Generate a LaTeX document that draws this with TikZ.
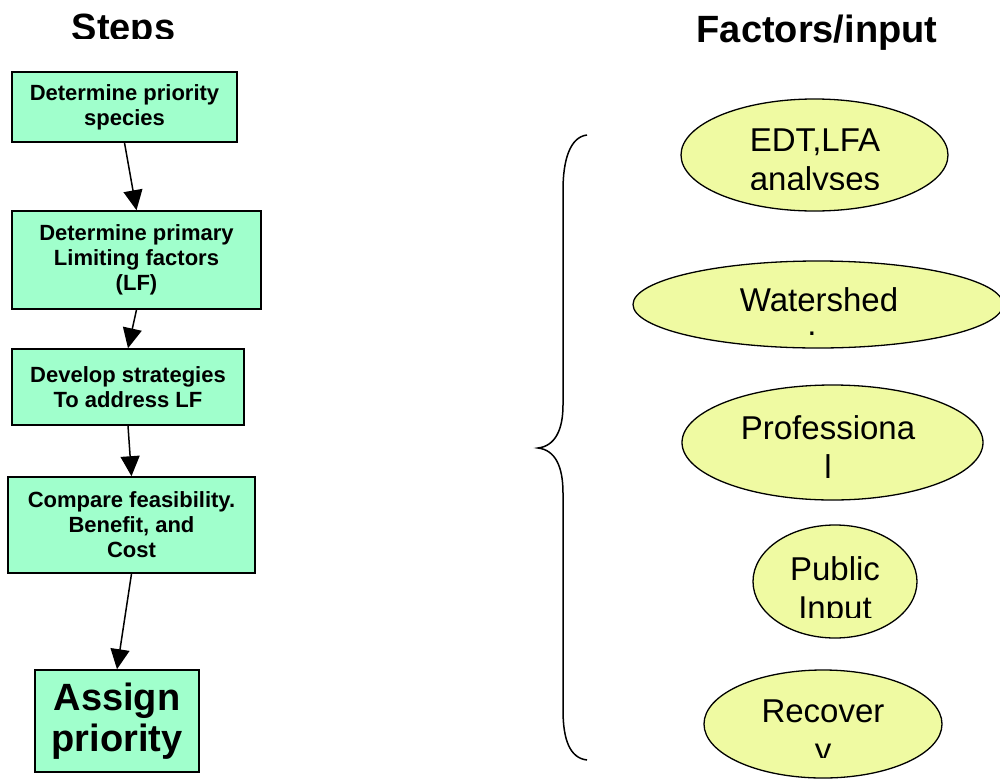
\documentclass[tikz,border=0pt]{standalone}
\usepackage{fontspec}
\setmainfont{Liberation Sans}
\usetikzlibrary{shapes, arrows.meta}
\definecolor{stepgreen}{HTML}{A0FFCC}
\definecolor{factoryellow}{HTML}{EFFAA2}

\begin{document}
\begin{tikzpicture}[x=1pt, y=-1pt,
stepbox/.style={draw, line width=1.6pt, fill=stepgreen, inner sep=0pt, align=center,
    font=\fontsize{22}{25}\selectfont\bfseries},
factor/.style={draw, ellipse, line width=1.3pt, fill=factoryellow, inner sep=0pt},
factortext/.style={align=center, inner sep=0pt, font=\fontsize{33}{39}\selectfont},
heading/.style={anchor=base, inner sep=0pt, font=\fontsize{38}{44}\selectfont\bfseries},
flow/.style={line width=1.5pt, -{Triangle[length=20pt, width=19pt]}}]
\useasboundingbox (0,0) rectangle (1000,779);

\begin{scope}
\clip (0,0) rectangle (300,38);
\node[heading] (steps) at (123.5,40.5) {Steps};
\end{scope}
\node[heading] (factors) at (817,42) {Factors/input};

\node[stepbox, minimum width=225pt, minimum height=70pt] (species) at (124.5,107) {Determine priority\\species};
\node[stepbox, minimum width=249pt, minimum height=98pt] (limits) at (136.5,260) {Determine primary\\Limiting factors\\(LF)};
\node[stepbox, minimum width=232pt, minimum height=76pt] (strategies) at (128,387) {Develop strategies\\To address LF};
\node[stepbox, minimum width=247pt, minimum height=96pt] (compare) at (131.5,525) {Compare feasibility.\\Benefit, and\\Cost};
\node[stepbox, minimum width=164pt, minimum height=102pt,
    font=\fontsize{38}{41}\selectfont\bfseries] (assign) at (117,721) {Assign\\priority};

\draw[flow] (species.south) -- (limits.north);
\draw[flow] (limits.south) -- (strategies.north);
\draw[flow] (strategies.south) -- (compare.north);
\draw[flow] (compare.south) -- (assign.north);

\draw[line width=1.5pt] (587,135) .. controls (570,137) and (563,160) .. (563,190) -- (563,405)
    .. controls (563,430) and (555,446) .. (538,448)
    .. controls (555,450) and (563,466) .. (563,493) -- (563,710)
    .. controls (563,740) and (570,758) .. (587,760);

\node[factor, minimum width=267pt, minimum height=112pt] (edt) at (814.5,155) {};
\node[factor, minimum width=370pt, minimum height=87pt] (watershed) at (818,304.5) {};
\node[factor, minimum width=301pt, minimum height=115pt] (professional) at (832.5,442.5) {};
\node[factor, minimum width=164pt, minimum height=113pt] (public) at (835,581.5) {};
\node[factor, minimum width=238pt, minimum height=108pt] (recovery) at (823,724) {};

\begin{scope}
\clip (600,90) rectangle (1000,189);
\node[factortext] (edt-text) at (815,163) {EDT,LFA\\analyses};
\end{scope}
\node[factortext] (watershed-text) at (819,312) {Watershed\\[-15pt]\hspace*{-14pt}.};
\node[factortext] (professional-text) at (828,447) {Professiona\\l};
\begin{scope}
\clip (600,520) rectangle (1000,617);
\node[factortext] (public-text) at (835,591) {Public\\Input};
\end{scope}
\begin{scope}
\clip (600,660) rectangle (1000,757);
\node[factortext] (recovery-text) at (823,734) {Recover\\y};
\end{scope}
\end{tikzpicture}
\end{document}
